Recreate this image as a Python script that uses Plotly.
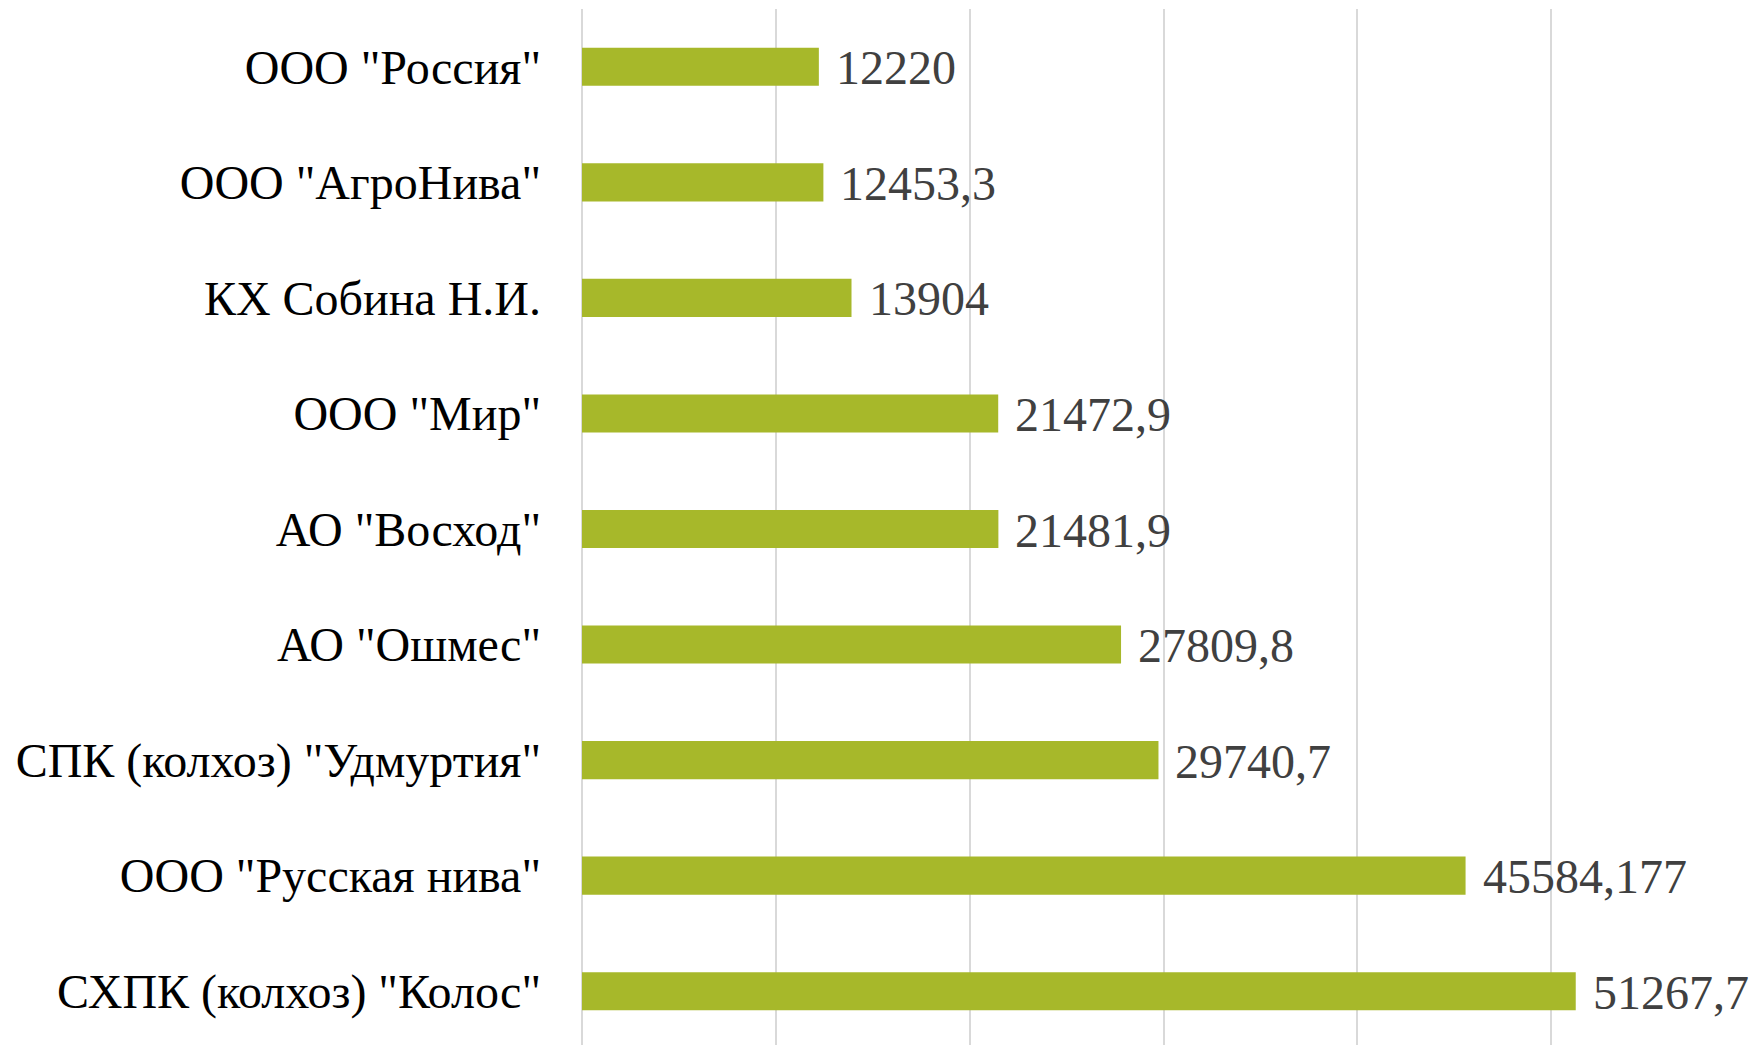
import plotly.graph_objects as go

categories = [
    'ООО "Россия"',
    'ООО "АгроНива"',
    'КХ Собина Н.И.',
    'ООО "Мир"',
    'АО "Восход"',
    'АО "Ошмес"',
    'СПК (колхоз) "Удмуртия"',
    'ООО "Русская нива"',
    'СХПК (колхоз) "Колос"',
]
values = [12220, 12453.3, 13904, 21472.9, 21481.9, 27809.8, 29740.7, 45584.177, 51267.7]


def fmt(v):
    if float(v).is_integer():
        return str(int(v))
    return repr(float(v)).replace(".", ",")


labels = [fmt(v) for v in values]

FONT = "Liberation Serif, Times New Roman, serif"

fig = go.Figure()
fig.add_trace(go.Bar(
    x=values,
    y=categories,
    orientation="h",
    marker=dict(color="#A7B82A", line=dict(width=0)),
    width=0.33,
    hoverinfo="skip",
))

for v, c, t in zip(values, categories, labels):
    fig.add_annotation(
        x=v, y=c, text=t, showarrow=False,
        xanchor="left", yanchor="middle", xshift=15, yshift=-1,
        font=dict(family=FONT, size=48, color="#404040"),
    )

fig.update_layout(
    width=1760,
    height=1045,
    margin=dict(l=574, r=23, t=1, b=4),
    plot_bgcolor="white",
    paper_bgcolor="white",
    showlegend=False,
    xaxis=dict(
        range=[0, 60000],
        dtick=10000,
        showgrid=True,
        gridcolor="#D9D9D9",
        gridwidth=2,
        zeroline=True,
        zerolinecolor="#D9D9D9",
        zerolinewidth=2,
        showticklabels=False,
        ticks="",
        showline=False,
        fixedrange=True,
    ),
    yaxis=dict(
        autorange="reversed",
        showgrid=False,
        showline=False,
        ticks="",
        ticklabelstandoff=40,
        tickfont=dict(family=FONT, size=48, color="#000000"),
        fixedrange=True,
    ),
)

fig.write_html("out.html")
